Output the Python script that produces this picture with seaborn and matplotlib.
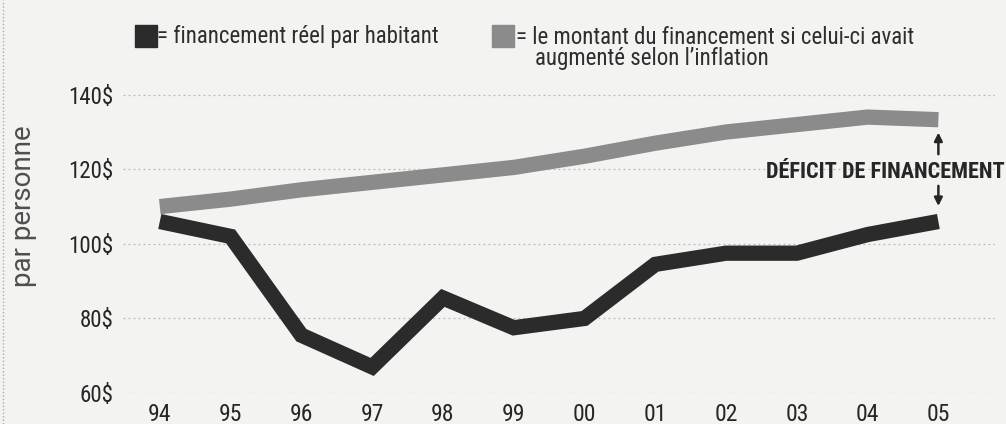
import matplotlib
matplotlib.use("Agg")
import matplotlib.pyplot as plt
import seaborn as sns
import pandas as pd
from matplotlib.patches import Rectangle

years = ["94", "95", "96", "97", "98", "99", "00", "01", "02", "03", "04", "05"]
reel = [106, 102, 75.5, 67, 85.5, 77.5, 80, 94.5, 97.5, 97.5, 102.5, 106]
inflation = [110, 112, 114.5, 116.5, 118.5, 120.5, 123.5, 127, 130, 132, 134, 133.3]
yticks = [60, 80, 100, 120, 140]
ytick_labels = ["60$", "80$", "100$", "120$", "140$"]
label_reel = "= financement réel par habitant"
label_infl_1 = "= le montant du financement si celui-ci avait"
label_infl_2 = "augmenté selon l\u2019inflation"
ylabel = "par personne"
gap_label = "DÉFICIT DE FINANCEMENT"

BG = "#f3f3f1"
DARK = "#2b2b2b"
GRAY = "#8b8b8b"
COND = ["Roboto Condensed", "DejaVu Sans"]

sns.set_theme(style="white")
plt.rcParams["font.family"] = COND

df = pd.DataFrame({
    "x": list(range(len(years))) * 2,
    "val": inflation + reel,
    "serie": ["infl"] * len(years) + ["reel"] * len(years),
})

fig = plt.figure(figsize=(10.06, 4.24), dpi=100, facecolor=BG)
ax = fig.add_axes([123 / 1006, 1 - 393 / 424, (995 - 123) / 1006, (393 - 91) / 424])
ax.set_facecolor(BG)

sns.lineplot(data=df, x="x", y="val", hue="serie", palette={"infl": GRAY, "reel": DARK},
             linewidth=11, legend=False, ax=ax, sort=False)
for ln in ax.lines:
    ln.set_solid_capstyle("butt")
    ln.set_solid_joinstyle("miter")

ax.set_xlim(-0.52, 11.8)
ax.set_ylim(60, 141)
ax.set_yticks(yticks)
ax.set_yticklabels(ytick_labels)
ax.set_xticks(range(len(years)))
ax.set_xticklabels(years)
ax.tick_params(axis="both", length=0, labelcolor="#262626")
ax.tick_params(axis="y", pad=7, labelsize=16.5)
ax.tick_params(axis="x", pad=7, labelsize=17)
for s in ax.spines.values():
    s.set_visible(False)
ax.yaxis.grid(True, color="#b8b8b8", linestyle=(0, (1.5, 2.5)), linewidth=0.9)
ax.xaxis.grid(False)
ax.set_axisbelow(True)
ax.set_xlabel("")
ax.set_ylabel(ylabel, fontsize=20, color="#4f4f4f", family=["Roboto", "DejaVu Sans"])
ax.yaxis.set_label_coords(-0.099, 0.62)

# Gap annotation
ax.text(8.56, 119.3, gap_label, fontsize=16, fontweight="bold", color="#262626",
        ha="left", va="center", clip_on=False)
ax.annotate("", xy=(11, 130.6), xytext=(11, 123.3),
            arrowprops=dict(arrowstyle="-|>", color="#262626", lw=1.8, mutation_scale=12))
ax.annotate("", xy=(11, 109.4), xytext=(11, 116.3),
            arrowprops=dict(arrowstyle="-|>", color="#262626", lw=1.8, mutation_scale=12))

# Legend (custom)
fig.patches.append(Rectangle((135 / 1006, 1 - 47 / 424), 22 / 1006, 22 / 424,
                             transform=fig.transFigure, color=DARK, zorder=5))
fig.text(157 / 1006, 1 - 37 / 424, label_reel, fontsize=16.5,
         color="#2e2e2e", va="center", ha="left")
fig.patches.append(Rectangle((492 / 1006, 1 - 47 / 424), 22 / 1006, 22 / 424,
                             transform=fig.transFigure, color=GRAY, zorder=5))
fig.text(516 / 1006, 1 - 37 / 424, label_infl_1, fontsize=16.5,
         color="#2e2e2e", va="center", ha="left")
fig.text(535 / 1006, 1 - 58 / 424, label_infl_2, fontsize=16.5,
         color="#2e2e2e", va="center", ha="left")

# dotted left border
fig.add_artist(plt.Line2D([3 / 1006, 3 / 1006], [0, 1], transform=fig.transFigure,
                          color="#aaaaaa", linestyle=(0, (1, 1.5)), linewidth=1))

fig.savefig("out.png", dpi=100, facecolor=BG)
